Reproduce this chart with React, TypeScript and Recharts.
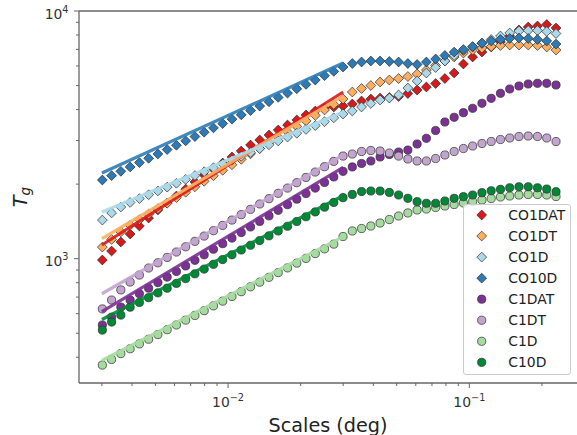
import React from 'react'
import { ScatterChart, Scatter, XAxis, YAxis, ReferenceLine } from 'recharts'

const FONT = '"DejaVu Sans", Verdana, sans-serif'
const SPINE = '#666'
const INK = '#333'
const EDGE = '#2b2b2b'

// angular scales (deg), shared by every series
const SCALES = [
  0.003013, 0.003291, 0.003594, 0.003928, 0.004291, 0.004686, 0.00512, 0.005593, 0.006109, 0.006673,
  0.00729, 0.007963, 0.008699, 0.009502, 0.01038, 0.01134, 0.01239, 0.01353, 0.01478, 0.01614,
  0.01764, 0.01927, 0.02104, 0.02299, 0.02511, 0.02743, 0.02996, 0.03273, 0.03575, 0.03906,
  0.04267, 0.04661, 0.05091, 0.05562, 0.06075, 0.06637, 0.0725, 0.07919, 0.08651, 0.0945,
  0.1032, 0.1128, 0.1232, 0.1346, 0.147, 0.1606, 0.1754, 0.1916, 0.2093, 0.2287,
]

const CO1DAT = [
  988, 1074, 1168, 1258, 1355, 1459, 1573, 1679, 1791, 1911, 2040, 2177, 2302, 2434, 2574, 2721, 2877, 3015, 3158, 3308,
  3465, 3631, 3803, 3947, 4059, 4097, 4135, 4213, 4331, 4413, 4453, 4475, 4517, 4644, 4797, 4934, 5097, 5339, 5619, 6110,
  6521, 6829, 7154, 7496, 7925, 8381, 8618, 8699, 8821, 8538,
]
const CO1DT = [
  1114, 1196, 1282, 1365, 1437, 1513, 1592, 1675, 1763, 1855, 1951, 2053, 2162, 2274, 2394, 2518, 2650, 2788, 2935, 3088,
  3250, 3420, 3600, 3787, 3986, 4194, 4414, 4710, 4865, 5003, 5168, 5265, 5339, 5438, 5567, 5778, 6026, 6282, 6521, 6767,
  6958, 7089, 7187, 7256, 7289, 7289, 7289, 7256, 7154, 6958,
]
const CO1D = [
  1432, 1530, 1617, 1687, 1748, 1812, 1877, 1945, 2016, 2090, 2166, 2245, 2327, 2411, 2499, 2590, 2684, 2782, 2883, 2988,
  3097, 3210, 3326, 3448, 3573, 3704, 3839, 3947, 4097, 4232, 4372, 4453, 4581, 4887, 5217, 5619, 5914, 6282, 6612, 6926,
  7154, 7393, 7672, 7925, 8150, 8303, 8341, 8341, 8265, 8111,
]
const CO10D = [
  2078, 2164, 2253, 2346, 2443, 2543, 2648, 2757, 2871, 2990, 3113, 3241, 3374, 3513, 3659, 3810, 3966, 4131, 4301, 4478,
  4662, 4853, 5055, 5263, 5480, 5705, 5942, 6138, 6225, 6282, 6282, 6254, 6225, 6138, 6082, 6225, 6401, 6612, 6829, 6990,
  7187, 7427, 7567, 7672, 7743, 7781, 7743, 7672, 7567, 7356,
]
const C1DAT = [
  540, 581, 638, 681, 722, 760, 801, 843, 888, 935, 985, 1037, 1092, 1150, 1211, 1275, 1343, 1414, 1489, 1568,
  1652, 1739, 1832, 1928, 2031, 2138, 2252, 2346, 2423, 2480, 2574, 2634, 2696, 2746, 2904, 3062, 3292, 3563, 3723, 3885,
  4048, 4241, 4441, 4653, 4843, 4980, 5074, 5106, 5106, 5026,
]
const C1DT = [
  627, 681, 748, 805, 859, 917, 963, 1012, 1064, 1117, 1175, 1234, 1297, 1363, 1432, 1506, 1582, 1663, 1747, 1836,
  1928, 2027, 2129, 2238, 2352, 2471, 2596, 2646, 2709, 2734, 2721, 2671, 2596, 2527, 2480, 2480, 2538, 2622, 2709, 2785,
  2851, 2918, 2972, 3028, 3071, 3114, 3128, 3114, 3071, 2972,
]
const C1D = [
  372, 392, 414, 433, 453, 473, 494, 517, 540, 565, 590, 617, 645, 674, 704, 736, 770, 804, 841, 879,
  918, 960, 1003, 1049, 1096, 1145, 1229, 1294, 1324, 1355, 1393, 1439, 1487, 1530, 1573, 1587, 1610, 1632, 1655, 1679,
  1702, 1726, 1750, 1775, 1791, 1808, 1817, 1817, 1808, 1782,
]
const C10D = [
  515, 555, 592, 637, 666, 696, 728, 760, 795, 831, 869, 908, 949, 992, 1037, 1084, 1133, 1184, 1237, 1294,
  1352, 1413, 1477, 1545, 1615, 1687, 1764, 1817, 1867, 1876, 1876, 1851, 1808, 1753, 1699, 1674, 1674, 1710, 1753, 1780,
  1808, 1847, 1881, 1906, 1934, 1952, 1952, 1934, 1911, 1864,
]

// power-law fits over the small scales
const FIT_X = [0.003, 0.03]
const FIT_CO1DAT = [1136, 4710]
const FIT_CO1DT = [1205, 4538]
const FIT_CO1D = [1544, 3910]
const FIT_CO10D = [2218, 6166]
const FIT_C1DAT = [612, 2335]
const FIT_C1DT = [722, 2622]
const FIT_C1D = [388, 1227]
const FIT_C10D = [568, 1796]

const X_TICKS = [0.003, 0.004, 0.005, 0.006, 0.007, 0.008, 0.009, 0.01, 0.02, 0.03, 0.04, 0.05, 0.06, 0.07, 0.08, 0.09, 0.1, 0.2]
const Y_TICKS = [400, 500, 600, 700, 800, 900, 1000, 2000, 3000, 4000, 5000, 6000, 7000, 8000, 9000, 10000]

type Marker = 'diamond' | 'circle'
interface Series { name: string; color: string; marker: Marker; values: number[]; fit: number[] }

const SERIES: Series[] = [
  { name: 'CO1DAT', color: '#d7191c', marker: 'diamond', values: CO1DAT, fit: FIT_CO1DAT },
  { name: 'CO1DT', color: '#fdae61', marker: 'diamond', values: CO1DT, fit: FIT_CO1DT },
  { name: 'CO1D', color: '#abd9e9', marker: 'diamond', values: CO1D, fit: FIT_CO1D },
  { name: 'CO10D', color: '#2c7bb6', marker: 'diamond', values: CO10D, fit: FIT_CO10D },
  { name: 'C1DAT', color: '#7b3294', marker: 'circle', values: C1DAT, fit: FIT_C1DAT },
  { name: 'C1DT', color: '#c2a5cf', marker: 'circle', values: C1DT, fit: FIT_C1DT },
  { name: 'C1D', color: '#a6dba0', marker: 'circle', values: C1D, fit: FIT_C1D },
  { name: 'C10D', color: '#008837', marker: 'circle', values: C10D, fit: FIT_C10D },
]

function MarkerGlyph({ cx, cy, color, marker }: { cx: number; cy: number; color: string; marker: Marker }) {
  if (marker === 'diamond') {
    const r = 4.9
    return <path d={`M${cx},${cy - r}L${cx + r},${cy}L${cx},${cy + r}L${cx - r},${cy}Z`} fill={color} stroke={EDGE} strokeWidth={0.7} />
  }
  return <circle cx={cx} cy={cy} r={4.1} fill={color} stroke={EDGE} strokeWidth={0.7} />
}

const decade = (v: number) => {
  const l = Math.log10(v)
  return Math.abs(l - Math.round(l)) < 1e-6 ? Math.round(l) : null
}
const expText = (e: number) => (e < 0 ? '\u2212' + Math.abs(e) : String(e))

function XTick(props: any) {
  const { x, y, payload } = props
  const e = decade(payload.value)
  return (
    <g>
      <line x1={x} x2={x} y1={y} y2={y + (e !== null ? 5 : 3)} stroke={SPINE} strokeWidth={1} />
      {e !== null && (
        <text x={x} y={y + 24} textAnchor="middle" fontSize={13.9} fill={INK} fontFamily={FONT}>
          10<tspan dy={-6} fontSize={9.7}>{expText(e)}</tspan>
        </text>
      )}
    </g>
  )
}

function YTick(props: any) {
  const { x, y, payload } = props
  const e = decade(payload.value)
  return (
    <g>
      <line x1={x} x2={x - (e !== null ? 5 : 3)} y1={y} y2={y} stroke={SPINE} strokeWidth={1} />
      {e !== null && (
        <text x={x - 10.5} y={y + 7.5} textAnchor="end" fontSize={13.9} fill={INK} fontFamily={FONT}>
          10<tspan dy={-6} fontSize={9.7}>{e}</tspan>
        </text>
      )}
    </g>
  )
}

function Legend() {
  return (
    <div
      style={{
        position: 'absolute', left: 463, top: 204, width: 108, height: 171, boxSizing: 'border-box',
        border: '1px solid #ccc', borderRadius: 3, background: 'rgba(255,255,255,0.8)',
      }}
    >
      <svg width={106} height={169} style={{ position: 'absolute', left: 0, top: 0 }}>
        {SERIES.map((s, i) => {
          const cy = 10 + i * 21.05
          return (
            <g key={s.name}>
              <MarkerGlyph cx={17.7} cy={cy} color={s.color} marker={s.marker} />
              <text x={44.3} y={cy + 5} fontSize={13.9} fill="#222" fontFamily={FONT}>{s.name}</text>
            </g>
          )
        })}
      </svg>
    </div>
  )
}

export default function App() {
  return (
    <div style={{ position: 'absolute', left: 0, top: 0, width: 577, height: 435, background: '#fff' }}>
      <ScatterChart width={577} height={435} margin={{ top: 11, right: 0, bottom: 0, left: 0 }}>
        <XAxis
          type="number" dataKey="x" scale="log" domain={[0.002411, 0.2794]} allowDataOverflow
          ticks={X_TICKS} interval={0} tick={<XTick />} tickLine={false} tickSize={0} tickMargin={0}
          height={52} axisLine={{ stroke: SPINE, strokeWidth: 1.3 }}
          label={{
            content: (p: any) => (
              <text x={p.viewBox.x + p.viewBox.width / 2} y={p.viewBox.y + 48.5} textAnchor="middle" fontSize={19.2} fill="#222" fontFamily={FONT}>
                Scales (deg)
              </text>
            ),
          }}
        />
        <YAxis
          type="number" dataKey="y" scale="log" domain={[314.9, 10000]} allowDataOverflow
          ticks={Y_TICKS} interval={0} tick={<YTick />} tickLine={false} tickSize={0} tickMargin={0}
          width={79} axisLine={{ stroke: SPINE, strokeWidth: 1.3 }}
          label={{
            content: (p: any) => {
              const cx = 27
              const cy = p.viewBox.y + p.viewBox.height / 2
              return (
                <text x={cx} y={cy} transform={`rotate(-90 ${cx} ${cy})`} textAnchor="middle" fontSize={19.2} fontStyle="italic" fill="#222" fontFamily={FONT}>
                  T<tspan dy={3} fontSize={13.5}>g</tspan>
                </text>
              )
            },
          }}
        />
        <ReferenceLine y={10000} stroke={SPINE} strokeWidth={1.3} />
        {SERIES.map((s) => (
          <Scatter
            key={s.name}
            name={s.name}
            data={SCALES.map((x, i) => ({ x, y: s.values[i] }))}
            shape={(p: any) => <MarkerGlyph cx={p.cx} cy={p.cy} color={s.color} marker={s.marker} />}
            isAnimationActive={false}
          />
        ))}
        {SERIES.map((s) => (
          <Scatter
            key={s.name + '-fit'}
            name={s.name + ' fit'}
            data={FIT_X.map((x, i) => ({ x, y: s.fit[i] }))}
            line={{ stroke: s.color, strokeWidth: 3.2, strokeOpacity: 0.9 }}
            shape={() => <g />}
            legendType="none"
            isAnimationActive={false}
          />
        ))}
      </ScatterChart>
      <Legend />
    </div>
  )
}
